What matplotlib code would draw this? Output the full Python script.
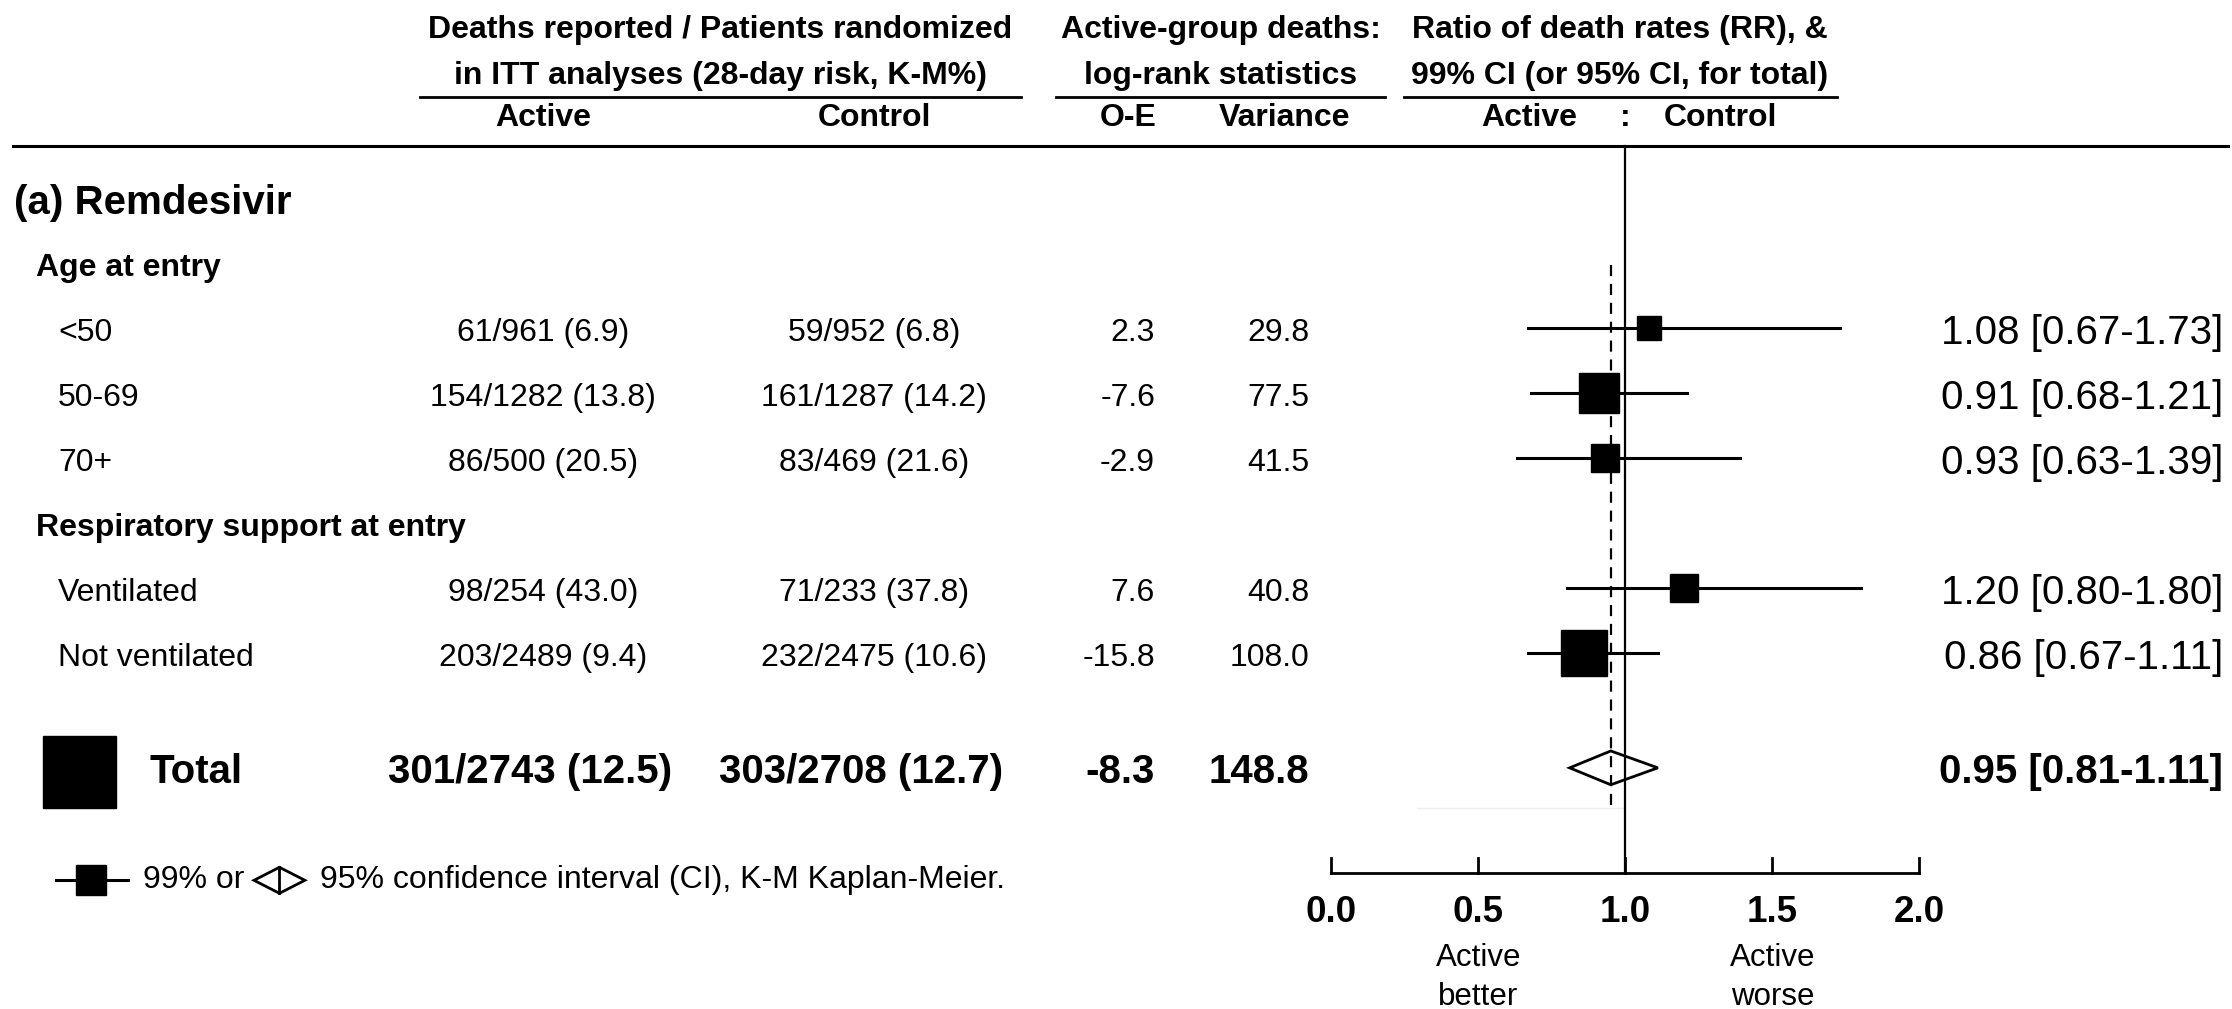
import matplotlib
matplotlib.use("Agg")
import matplotlib.pyplot as plt
from matplotlib.transforms import blended_transform_factory
from matplotlib.patches import Rectangle, Polygon

plt.rcParams['font.family'] = ['Liberation Sans', 'DejaVu Sans']

# data
row_labels = ['<50', '50-69', '70+', 'Ventilated', 'Not ventilated']
row_pos = [2, 3, 4, 6, 7]
active_txt = ['61/961 (6.9)', '154/1282 (13.8)', '86/500 (20.5)', '98/254 (43.0)', '203/2489 (9.4)']
control_txt = ['59/952 (6.8)', '161/1287 (14.2)', '83/469 (21.6)', '71/233 (37.8)', '232/2475 (10.6)']
o_e = [2.3, -7.6, -2.9, 7.6, -15.8]
variance = [29.8, 77.5, 41.5, 40.8, 108.0]
rr = [1.08, 0.91, 0.93, 1.20, 0.86]
ci_low = [0.67, 0.68, 0.63, 0.80, 0.67]
ci_high = [1.73, 1.21, 1.39, 1.80, 1.11]

total_active = '301/2743 (12.5)'
total_control = '303/2708 (12.7)'
total_oe = -8.3
total_var = 148.8
total_rr = 0.95
total_low = 0.81
total_high = 1.11
total_y = 8.75

xticks = [0.0, 0.5, 1.0, 1.5, 2.0]

fig = plt.figure(figsize=(22.32, 10.09), dpi=100)
ax = fig.add_axes([0, 0, 1, 1])
ax.set_xlim(-4.529, 3.063)
ax.set_ylim(12.40, -3.123)
ax.axis('off')
tr = blended_transform_factory(ax.transAxes, ax.transData)

# header
hb = dict(fontsize=23, fontweight='bold', ha='center', va='center', transform=tr)
ax.text(0.3226, -2.66, 'Deaths reported / Patients randomized', **hb)
ax.text(0.3226, -1.95, 'in ITT analyses (28-day risk, K-M%)', **hb)
ax.text(0.547, -2.66, 'Active-group deaths:', **hb)
ax.text(0.547, -1.95, 'log-rank statistics', **hb)
ax.text(0.7258, -2.66, 'Ratio of death rates (RR), &', **hb)
ax.text(0.7258, -1.95, '99% CI (or 95% CI, for total)', **hb)
for x0, x1 in [(0.1882, 0.4574), (0.473, 0.6205), (0.629, 0.823)]:
    ax.plot([x0, x1], [-1.63, -1.63], color='black', lw=2, transform=tr)
ax.text(0.2433, -1.31, 'Active', **hb)
ax.text(0.3916, -1.31, 'Control', **hb)
ax.text(0.5054, -1.31, 'O-E', **hb)
ax.text(0.5753, -1.31, 'Variance', **hb)
ax.text(0.685, -1.31, 'Active', **hb)
ax.text(0.728, -1.31, ':', **hb)
ax.text(0.771, -1.31, 'Control', **hb)
ax.plot([0.006, 0.998], [-0.88, -0.88], color='black', lw=2.2, transform=tr)

# section labels
ax.text(0.0063, 0, '(a) Remdesivir', fontsize=29, fontweight='bold', va='center', transform=tr)
ax.text(0.0161, 1, 'Age at entry', fontsize=23, fontweight='bold', va='center', transform=tr)
ax.text(0.0161, 5, 'Respiratory support at entry', fontsize=23, fontweight='bold', va='center', transform=tr)

# rows
for i, y in enumerate(row_pos):
    ax.text(0.026, y, row_labels[i], fontsize=23, va='center', transform=tr)
    ax.text(0.2433, y, active_txt[i], fontsize=23, ha='center', va='center', transform=tr)
    ax.text(0.3916, y, control_txt[i], fontsize=23, ha='center', va='center', transform=tr)
    ax.text(0.5175, y, f'{o_e[i]:.1f}', fontsize=23, ha='right', va='center', transform=tr)
    ax.text(0.5865, y, f'{variance[i]:.1f}', fontsize=23, ha='right', va='center', transform=tr)
    ax.plot([ci_low[i], ci_high[i]], [y - 0.08, y - 0.08], color='black', lw=2.2, zorder=3)
    ax.plot(rr[i], y - 0.08, marker='s', color='black', ms=3.2 * variance[i] ** 0.5, zorder=4)
    ax.text(0.996, y, f'{rr[i]:.2f} [{ci_low[i]:.2f}-{ci_high[i]:.2f}]', fontsize=29,
            ha='right', va='center', transform=tr)

# total row
ax.add_patch(Rectangle((0.0356 - 0.01635, total_y - 0.554), 0.0327, 1.108,
                       facecolor='black', edgecolor='black', transform=tr))
tb = dict(fontsize=29, fontweight='bold', va='center', transform=tr)
ax.text(0.0668, total_y, 'Total', **tb)
ax.text(0.2375, total_y, total_active, ha='center', **tb)
ax.text(0.3858, total_y, total_control, ha='center', **tb)
ax.text(0.5175, total_y, f'{total_oe:.1f}', ha='right', **tb)
ax.text(0.5865, total_y, f'{total_var:.1f}', ha='right', **tb)
ax.text(0.996, total_y, f'{total_rr:.2f} [{total_low:.2f}-{total_high:.2f}]', ha='right', **tb)
dy = total_y - 0.06
ax.add_patch(Polygon([(total_low, dy), (total_rr, dy - 0.26), (total_high, dy), (total_rr, dy + 0.26)],
                     closed=True, facecolor='none', edgecolor='black', lw=2, zorder=3))

# reference lines
ax.plot([1.0, 1.0], [-0.88, 10.31], color='black', lw=1.6, zorder=2)
ax.plot([total_rr, total_rr], [0.95, 9.29], color='black', lw=1.6, ls=(0, (5, 3.5)), zorder=5)
ax.plot([0.29, 1.0], [9.31, 9.31], color='#eeeeee', lw=1, zorder=1)

# axis
ax.plot([xticks[0], xticks[-1]], [10.31, 10.31], color='black', lw=2)
for t in xticks:
    ax.plot([t, t], [10.08, 10.31], color='black', lw=2)
    ax.text(t, 10.92, f'{t:.1f}', fontsize=26.5, fontweight='bold', ha='center', va='center')
ax.text(0.5, 11.62, 'Active', fontsize=22.5, ha='center', va='center')
ax.text(0.5, 12.22, 'better', fontsize=22.5, ha='center', va='center')
ax.text(1.5, 11.62, 'Active', fontsize=22.5, ha='center', va='center')
ax.text(1.5, 12.22, 'worse', fontsize=22.5, ha='center', va='center')

# legend
ly = 10.42
ax.plot([0.0251, 0.0573], [ly, ly], color='black', lw=2.2, transform=tr)
ax.plot(0.0408, ly, marker='s', color='black', ms=22, transform=tr)
ax.text(0.064, ly, '99% or', fontsize=23, va='center', transform=tr)
ax.add_patch(Polygon([(0.1138, ly), (0.1252, ly - 0.2), (0.1366, ly), (0.1252, ly + 0.2)],
                     closed=True, facecolor='none', edgecolor='black', lw=2, transform=tr))
ax.plot([0.1252, 0.1252], [ly - 0.2, ly + 0.2], color='black', lw=2, transform=tr)
ax.text(0.1434, ly, '95% confidence interval (CI), K-M Kaplan-Meier.', fontsize=23, va='center', transform=tr)

fig.savefig('out.png', dpi=100)
